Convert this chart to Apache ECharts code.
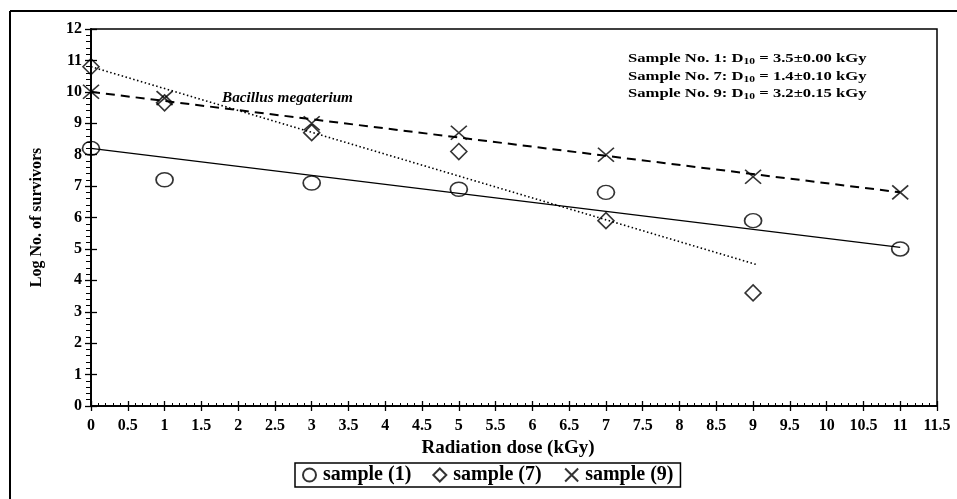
<!DOCTYPE html>
<html><head><meta charset="utf-8">
<script src="https://cdn.jsdelivr.net/npm/echarts@6/dist/echarts.min.js"></script>
<style>html,body{margin:0;padding:0;background:#fff}#c{width:957px;height:499px}</style>
</head><body><div id="c"></div>
<script>
// Data
const doses1 = [0, 1, 3, 5, 7, 9, 11];
const sample1 = [8.2, 7.2, 7.1, 6.9, 6.8, 5.9, 5.0];
const doses7 = [0, 1, 3, 5, 7, 9];
const sample7 = [10.8, 9.65, 8.7, 8.1, 5.9, 3.6];
const doses9 = [0, 1, 3, 5, 7, 9, 11];
const sample9 = [10.0, 9.8, 9.0, 8.7, 8.0, 7.3, 6.8];
// fitted trend lines: [dose, value] end points
const trend1 = [[0, 8.2], [11, 5.05]];
const trend7 = [[0, 10.8], [9.05, 4.5]];
const trend9 = [[0, 10.0], [11, 6.8]];
const legendNames = ['sample (1)', 'sample (7)', 'sample (9)'];
const notes = [
  ['1', '3.5±0.00'],
  ['7', '1.4±0.10'],
  ['9', '3.2±0.15']
];

const F = 'Liberation Serif, Times New Roman, serif';
const pts = (xs, ys) => xs.map((x, i) => [x, ys[i]]);
const crossPath = 'path://M0,0L10,10M10,0L0,10';

const chart = echarts.init(document.getElementById('c'), null, {renderer: 'canvas'});

const axBase = {
  type: 'value', min: 0, splitLine: {show: false},
  axisLine: {show: true, lineStyle: {color: '#000', width: 1.6}}
};

chart.setOption({
  animation: false,
  backgroundColor: '#fff',
  grid: {left: 91, top: 29, right: 20, bottom: 93, show: true, borderColor: '#000', borderWidth: 1.5, backgroundColor: 'transparent'},
  xAxis: [
    Object.assign({}, axBase, {
      max: 11.5, interval: 0.5,
      axisTick: {show: true, inside: false, length: 5, lineStyle: {color: '#000', width: 1.3}},
      axisLabel: {color: '#000', fontFamily: F, fontWeight: 'bold', fontSize: 16, margin: 12},
      name: 'Radiation dose (kGy)', nameLocation: 'middle', nameGap: 26,
      nameTextStyle: {color: '#000', fontFamily: F, fontWeight: 'bold', fontSize: 19, padding: [0, 12, 0, 0]}
    }),
    Object.assign({}, axBase, {
      position: 'bottom', max: 11.5, interval: 0.5,
      axisTick: {show: true, inside: true, length: 5, lineStyle: {color: '#000', width: 1.3}},
      minorTick: {show: true, splitNumber: 5, length: 3, lineStyle: {color: '#000', width: 1}},
      axisLabel: {show: false}
    })
  ],
  yAxis: [
    Object.assign({}, axBase, {
      max: 12, interval: 1,
      axisTick: {show: true, inside: false, length: 6, lineStyle: {color: '#000', width: 1.3}},
      minorTick: {show: true, splitNumber: 5, length: 5, lineStyle: {color: '#000', width: 1}},
      axisLabel: {color: '#000', fontFamily: F, fontWeight: 'bold', fontSize: 16, margin: 9},
      name: 'Log No. of survivors', nameLocation: 'middle', nameGap: 46,
      nameTextStyle: {color: '#000', fontFamily: F, fontWeight: 'bold', fontSize: 16}
    }),
    Object.assign({}, axBase, {
      position: 'left', max: 12, interval: 1,
      axisTick: {show: true, inside: true, length: 6, lineStyle: {color: '#000', width: 1.3}},
      axisLabel: {show: false}
    })
  ],
  legend: {
    data: [
      {name: legendNames[0], icon: 'circle'},
      {name: legendNames[1], icon: 'diamond'},
      {name: legendNames[2], icon: crossPath}
    ],
    left: 295, top: 463,
    padding: [2, 7, 2, 7], itemGap: 21,
    itemWidth: 13, itemHeight: 13,
    borderColor: '#000', borderWidth: 1.5, borderRadius: 0,
    textStyle: {color: '#000', fontFamily: F, fontWeight: 'bold', fontSize: 20, padding: [0, 0, 0, 2]}
  },
  graphic: [
    {type: 'line', shape: {x1: 10, y1: 11, x2: 957, y2: 11}, style: {stroke: '#000', lineWidth: 2}},
    {type: 'line', shape: {x1: 10, y1: 11, x2: 10, y2: 499}, style: {stroke: '#000', lineWidth: 2}},
    {type: 'text', x: 222, y: 98, scaleX: 1.09,
      style: {text: 'Bacillus megaterium', fill: '#000', font: 'italic bold 14px ' + F, textVerticalAlign: 'middle'}}
  ].concat(notes.map((n, i) => ({
    type: 'text', x: 628, y: 59 + i * 17.5, scaleX: 1.28,
    style: {
      text: '{a|Sample No. ' + n[0] + ': D}{s|10}{a| = ' + n[1] + ' kGy}',
      textVerticalAlign: 'middle',
      rich: {
        a: {fill: '#000', fontFamily: F, fontWeight: 'bold', fontSize: 13},
        s: {fill: '#000', fontFamily: F, fontWeight: 'bold', fontSize: 9, padding: [6, 0, 0, 0]}
      }
    }
  }))),
  series: [
    {name: 'trend1', type: 'line', data: trend1, symbol: 'none', silent: true,
      lineStyle: {color: '#000', width: 1.3, type: 'solid'}},
    {name: 'trend7', type: 'line', data: trend7, symbol: 'none', silent: true,
      lineStyle: {color: '#000', width: 1.6, type: [1.5, 2.5]}},
    {name: 'trend9', type: 'line', data: trend9, symbol: 'none', silent: true,
      lineStyle: {color: '#000', width: 2, type: [9, 6]}},
    {name: legendNames[0], type: 'scatter', data: pts(doses1, sample1), symbol: 'circle', symbolSize: [17, 14],
      itemStyle: {color: 'rgba(255,255,255,0)', borderColor: '#000', borderWidth: 1.6}},
    {name: legendNames[1], type: 'scatter', data: pts(doses7, sample7), symbol: 'diamond', symbolSize: [16, 16],
      itemStyle: {color: 'rgba(255,255,255,0)', borderColor: '#000', borderWidth: 1.6}},
    {name: legendNames[2], type: 'scatter', data: pts(doses9, sample9), symbol: crossPath, symbolSize: [16, 14],
      itemStyle: {color: 'none', borderColor: '#000', borderWidth: 1.6}}
  ]
});
</script></body></html>
